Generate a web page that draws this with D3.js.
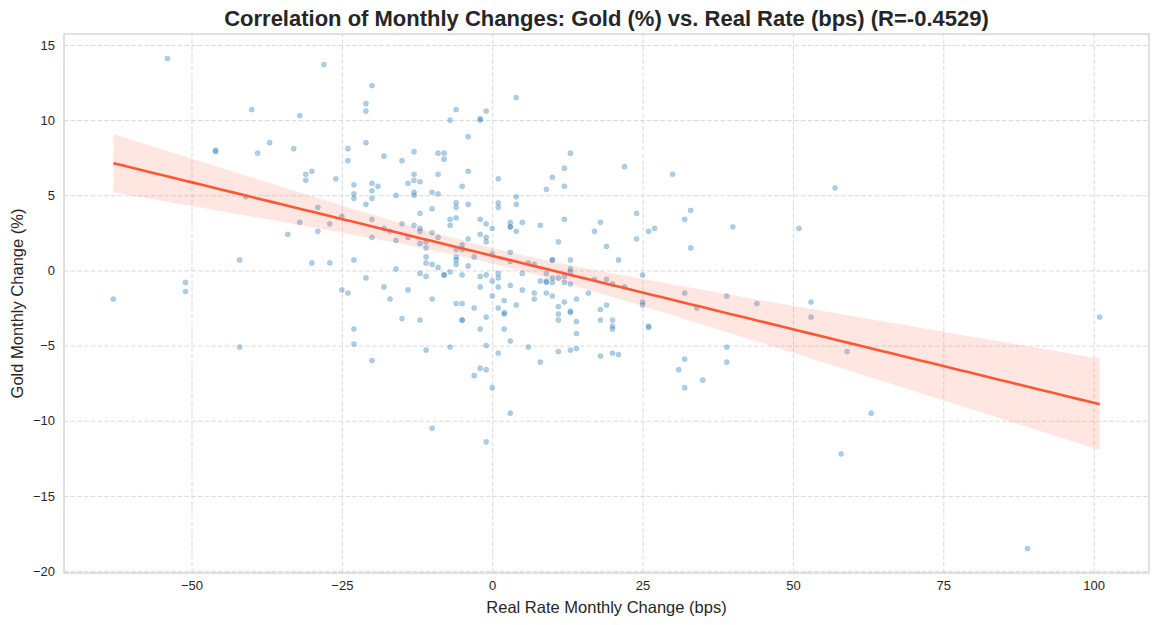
<!DOCTYPE html>
<html>
<head>
<meta charset="utf-8">
<script src="https://cdn.jsdelivr.net/npm/d3@7/dist/d3.min.js"></script>
<style>
  html, body { margin: 0; padding: 0; background: #ffffff; }
  svg { display: block; }
  text { font-family: "Liberation Sans", Arial, "DejaVu Sans", sans-serif; fill: #262626; }
</style>
</head>
<body>
<svg id="chart" width="1158" height="625"></svg>
<script>
// ---- data ----
const realRateChange = [
  -63,-54,-51,-51,-46,-46,-42,-42,-41,-40,-39,-37,-34,-33,-32,-32,-31,-31,-30,-30,-29,-29,-28,-27,-27,-26,-25,-25,-24,-24,-24,-23,-23,-23,-23,-23,-23,
  -21,-21,-21,-21,-21,-20,-20,-20,-20,-20,-20,-20,-19,-18,-18,-18,-17,-17,-16,-16,-16,-15,-15,-15,-14,-14,-14,-13,-13,-13,-13,-13,-13,
  -12,-12,-12,-12,-12,-12,-12,-11,-11,-11,-11,-11,-11,-10,-10,-10,-10,-10,-10,-9,-9,-9,-9,-9,-8,-8,-8,-8,-7,-7,-7,-7,-7,
  -6,-6,-6,-6,-6,-6,-6,-6,-6,-5,-5,-5,-5,-5,-5,-5,-4,-4,-4,-4,-4,-3,-3,-3,-2,-2,-2,-2,-2,-2,-2,-2,-1,-1,-1,-1,-1,-1,-1,-1,-1,
  0,0,0,0,0,1,1,1,1,1,1,1,1,2,2,2,2,3,3,3,3,3,3,3,3,4,4,4,4,4,5,5,5,6,6,7,7,7,8,8,8,9,9,9,9,9,
  10,10,10,10,10,10,11,11,11,11,11,11,12,12,12,12,12,12,13,13,13,13,13,13,13,13,14,14,14,14,16,17,17,18,18,18,18,19,19,19,20,20,20,20,20,21,21,22,22,
  24,24,25,25,25,26,26,26,27,30,31,32,32,32,32,33,33,34,35,39,39,39,40,44,51,53,53,57,58,59,63,89,101
];
const goldChange = [
  -1.9,14.1,-0.8,-1.4,8.0,7.9,0.7,-5.1,4.9,10.7,7.8,8.5,2.4,8.1,10.3,3.2,6.4,6.0,6.6,0.5,4.2,2.6,13.7,3.1,0.5,6.1,3.6,-1.3,8.1,7.3,-1.5,5.7,5.1,4.8,0.7,-3.9,-4.9,
  11.1,10.6,8.5,4.4,-0.5,12.3,5.8,5.3,4.8,3.4,2.2,-6.0,5.6,7.6,2.8,-1.1,2.6,-1.9,5.0,2.0,0.1,7.3,3.1,-3.2,5.8,2.2,-1.3,7.9,6.4,6.0,5.2,5.0,3.0,
  5.9,3.8,2.8,2.6,1.8,-0.2,-3.3,1.9,1.5,0.9,0.5,-0.4,-5.3,5.2,4.1,2.5,0.4,-1.9,-10.5,7.8,6.4,5.1,2.2,0.2,7.8,7.4,-0.3,-0.3,10.0,3.4,3.0,-0.1,-5.1,
  10.7,4.5,4.2,3.5,1.4,0.9,0.7,0.4,-2.2,5.6,1.7,1.4,-0.3,-2.2,-3.3,-3.3,8.9,6.6,4.4,2.1,0.3,0.9,-2.5,-7.0,10.1,10.0,3.4,2.4,-0.4,-1.1,-3.9,-6.5,10.6,3.1,2.2,1.9,-0.3,-3.1,-5.0,-6.6,-11.4,
  2.8,1.1,-0.7,-1.7,-7.8,6.1,4.5,4.2,-0.2,-0.5,-1.1,-2.5,-5.5,-2.0,-2.8,-2.9,-3.9,3.2,2.9,2.9,1.2,0.6,-1.0,-4.7,-9.5,11.5,4.9,4.4,2.6,-2.3,3.2,-0.2,-1.3,0.5,-5.1,0.4,-1.5,-1.9,3.0,-0.7,-6.1,5.4,-0.2,-0.7,-0.8,-1.5,
  6.2,0.7,0.7,-0.5,-0.8,-1.7,1.9,-0.5,-2.4,-2.9,-3.3,-5.4,6.8,5.6,3.4,-0.4,-0.8,-2.1,7.8,0.7,0.1,-0.1,-0.9,-2.7,-2.8,-5.3,-1.9,-3.4,-4.2,-5.2,-1.5,2.6,-0.6,3.2,-2.6,-3.3,-5.7,1.6,-0.6,-2.3,-0.9,-3.3,-3.7,-3.9,-5.5,0.7,-5.6,6.9,-1.1,
  3.8,2.1,-0.3,-2.1,-2.3,2.6,-3.7,-3.8,2.8,6.4,-6.6,3.4,-1.5,-5.9,-7.8,4.0,1.5,-2.5,-7.3,-1.7,-5.1,-6.1,2.9,-2.2,2.8,-2.1,-3.1,5.5,-12.2,-5.4,-9.5,-18.5,-3.1
];
const xTicks = [-50, -25, 0, 25, 50, 75, 100];
const yTicks = [-20, -15, -10, -5, 0, 5, 10, 15];
const titleText = "Correlation of Monthly Changes: Gold (%) vs. Real Rate (bps) (R=-0.4529)";
const xLabel = "Real Rate Monthly Change (bps)";
const yLabel = "Gold Monthly Change (%)";

// ---- layout ----
const W = 1158, H = 625;
const m = { left: 64, right: 9, top: 34, bottom: 52 };
const svg = d3.select("#chart");
const pts = realRateChange.map((x, i) => ({ x, y: goldChange[i] }));

const xExt = d3.extent(realRateChange), yExt = d3.extent(goldChange);
const xPad = (xExt[1] - xExt[0]) * 0.05, yPad = (yExt[1] - yExt[0]) * 0.05;
const x = d3.scaleLinear().domain([xExt[0] - xPad, xExt[1] + xPad]).range([m.left, W - m.right]);
const y = d3.scaleLinear().domain([yExt[0] - yPad, yExt[1] + yPad]).range([H - m.bottom, m.top]);

const fmt = d => d < 0 ? "\u2212" + Math.abs(d) : d;
const styleAxis = a => {
  a.select(".domain").remove();
  a.selectAll("line").attr("stroke", "#d9d9d9").attr("stroke-dasharray", "4.5,2.2").attr("stroke-width", 1);
  a.selectAll("text").attr("font-size", 13).attr("fill", "#262626")
    .style("font-family", "'Liberation Sans', Arial, sans-serif");
};
svg.append("g").attr("transform", `translate(0,${H - m.bottom})`)
  .call(d3.axisBottom(x).tickValues(xTicks).tickSize(-(H - m.bottom - m.top)).tickFormat(fmt).tickPadding(8))
  .call(styleAxis);
svg.append("g").attr("transform", `translate(${m.left},0)`)
  .call(d3.axisLeft(y).tickValues(yTicks).tickSize(-(W - m.left - m.right)).tickFormat(fmt).tickPadding(9))
  .call(styleAxis);

// ---- regression from the data (OLS fit, heteroscedasticity-robust 95% band) ----
const n = pts.length;
const mx = d3.mean(pts, d => d.x), my = d3.mean(pts, d => d.y);
const sxx = d3.sum(pts, d => (d.x - mx) ** 2);
const sxy = d3.sum(pts, d => (d.x - mx) * (d.y - my));
const b = sxy / sxx, a0 = my - b * mx;
const resid = pts.map(d => d.y - (a0 + b * d.x));
const grid = d3.range(100).map(i => xExt[0] + (xExt[1] - xExt[0]) * i / 99);
const band = grid.map(gx => {
  const yh = a0 + b * gx;
  let v = 0;
  pts.forEach((d, i) => {
    const w = 1 / n + (gx - mx) * (d.x - mx) / sxx;
    v += w * w * resid[i] * resid[i];
  });
  const hw = 1.97 * Math.sqrt(v);
  return { x: gx, y: yh, lo: yh - hw, hi: yh + hw };
});

// scatter
svg.append("g").selectAll("circle").data(pts).join("circle")
  .attr("cx", d => x(d.x)).attr("cy", d => y(d.y)).attr("r", 2.6)
  .attr("fill", "#1f77b4").attr("fill-opacity", 0.36)
  .attr("stroke", "#1f77b4").attr("stroke-opacity", 0.22).attr("stroke-width", 0.6);

// band + line
svg.append("path").datum(band)
  .attr("d", d3.area().x(d => x(d.x)).y0(d => y(d.lo)).y1(d => y(d.hi)))
  .attr("fill", "#ff5733").attr("fill-opacity", 0.15);
svg.append("path").datum(band)
  .attr("d", d3.line().x(d => x(d.x)).y(d => y(d.y)))
  .attr("fill", "none").attr("stroke", "#ff5733").attr("stroke-width", 2.6);

// frame
svg.append("rect").attr("x", m.left).attr("y", m.top)
  .attr("width", W - m.left - m.right).attr("height", H - m.top - m.bottom)
  .attr("fill", "none").attr("stroke", "#cccccc").attr("stroke-width", 1.2);

// texts
svg.append("text").attr("x", (m.left + W - m.right) / 2).attr("y", 26)
  .attr("text-anchor", "middle").attr("font-size", 22).attr("font-weight", "bold").text(titleText);
svg.append("text").attr("x", (m.left + W - m.right) / 2).attr("y", 613)
  .attr("text-anchor", "middle").attr("font-size", 16.5).text(xLabel);
svg.append("text").attr("transform", `translate(23,${(m.top + H - m.bottom) / 2}) rotate(-90)`)
  .attr("text-anchor", "middle").attr("font-size", 16.5).text(yLabel);
</script>
</body>
</html>
